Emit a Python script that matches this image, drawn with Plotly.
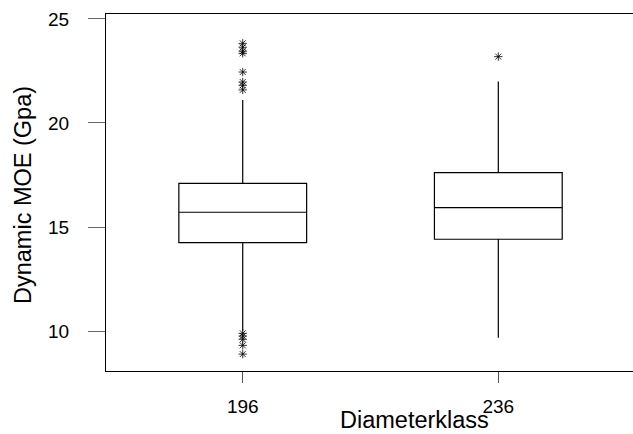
import plotly.graph_objects as go

categories = ["196", "236"]
positions = [0, 1]
q1 = [14.25, 14.41]
median = [15.71, 15.93]
q3 = [17.10, 17.61]
lower_fence = [10.01, 9.68]
upper_fence = [21.11, 21.99]
outliers = [
    [23.83, 23.64, 23.45, 23.35, 22.45, 21.97, 21.81, 21.59, 9.89, 9.76, 9.60, 9.31, 8.89],
    [23.19],
]

fig = go.Figure()
fig.add_trace(go.Box(
    x=positions, q1=q1, median=median, q3=q3,
    lowerfence=lower_fence, upperfence=upper_fence,
    width=0.5, whiskerwidth=0,
    line=dict(color="black", width=1.2),
    fillcolor="rgba(0,0,0,0)",
    boxpoints=False, showlegend=False, hoverinfo="skip",
))
for pos, outs in zip(positions, outliers):
    fig.add_trace(go.Scatter(
        x=[pos] * len(outs), y=outs, mode="markers",
        marker=dict(symbol="asterisk-open", size=7, color="black",
                    line=dict(color="black", width=0.8)),
        showlegend=False, hoverinfo="skip",
    ))

font = "Liberation Sans, Arial, sans-serif"
L, R, T, B = 106, 0, 14, 63
W, H = 633, 434
pw, ph = W - L - R, H - T - B

fig.update_layout(
    width=W, height=H,
    margin=dict(l=L, r=R, t=T, b=B),
    paper_bgcolor="white", plot_bgcolor="white",
    font=dict(family=font, color="black", size=19),
    xaxis=dict(
        range=[-0.535, 1.527], tickmode="array", tickvals=positions, ticktext=categories,
        showgrid=False, zeroline=False, showline=True, linecolor="black", linewidth=1.2,
        mirror=True, ticks="outside", ticklen=11, tickcolor="#555", tickwidth=1,
        ticklabelstandoff=7, tickfont=dict(size=19),
    ),
    yaxis=dict(
        range=[8.077, 25.24], tickvals=[10, 15, 20, 25],
        showgrid=False, zeroline=False, showline=True, linecolor="black", linewidth=1.2,
        ticks="outside", ticklen=17, tickcolor="#666", tickwidth=1,
        ticklabelstandoff=15, tickfont=dict(size=19),
    ),
    annotations=[
        dict(text="Diameterklass", xref="paper", yref="paper",
             x=(414 - L) / pw, y=-(420 - (H - B)) / ph,
             xanchor="center", yanchor="middle", showarrow=False, font=dict(size=23.5)),
        dict(text="Dynamic MOE (Gpa)", xref="paper", yref="paper",
             x=-(L - 23) / pw, y=((H - B) - 195) / ph,
             xanchor="center", yanchor="middle", showarrow=False,
             textangle=-90, font=dict(size=23.5)),
    ],
)

fig.write_html("out.html")
